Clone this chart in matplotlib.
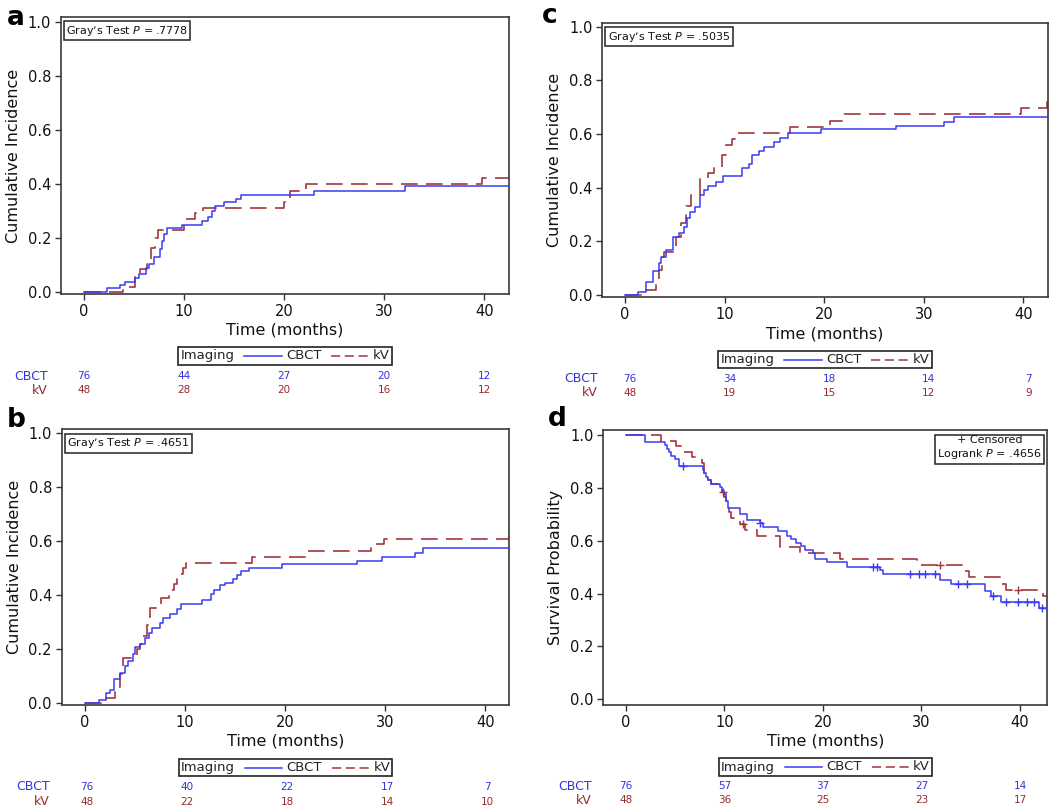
import matplotlib
matplotlib.use('Agg')
import matplotlib.pyplot as plt
import matplotlib.transforms as mtransforms
from matplotlib.lines import Line2D
from matplotlib.offsetbox import AnchoredOffsetbox, HPacker, TextArea, DrawingArea

plt.rcParams['font.family'] = ['DejaVu Sans']

# ---- data ----
risk_times = [0, 10, 20, 30, 40]

# a: cumulative incidence
a_cbct_t = [0, 2.3, 3.6, 4.1, 5.1, 5.5, 6.2, 6.5, 7.0, 7.6, 7.8, 8.0, 8.3, 9.8, 11.8, 12.4, 12.8, 13.1,
            14.0, 15.2, 15.7, 23.0, 32.1, 42.5]
a_cbct_y = [0, 0.015, 0.027, 0.039, 0.052, 0.067, 0.09, 0.105, 0.13, 0.16, 0.19, 0.215, 0.237, 0.25,
            0.263, 0.28, 0.30, 0.32, 0.333, 0.347, 0.36, 0.375, 0.395, 0.395]
a_kv_t = [0, 3.95, 5.1, 5.6, 6.3, 6.7, 7.1, 7.45, 10.0, 11.1, 11.9, 20.0, 20.6, 22.2, 39.8, 42.5]
a_kv_y = [0, 0.021, 0.064, 0.085, 0.125, 0.165, 0.2, 0.229, 0.27, 0.292, 0.313, 0.333, 0.375, 0.40,
          0.425, 0.425]
a_cbct_risk = [76, 44, 27, 20, 12]
a_kv_risk = [48, 28, 20, 16, 12]

# b: cumulative incidence
b_cbct_t = [0, 1.4, 2.1, 2.5, 2.9, 3.5, 4.0, 4.35, 4.8, 5.0, 5.5, 6.0, 6.4, 6.7, 7.5, 7.8, 8.5, 9.2,
            9.6, 11.7, 12.6, 12.9, 13.5, 14.0, 14.8, 15.2, 15.6, 16.4, 19.7, 27.2, 29.7, 33.0, 33.8, 42.5]
b_cbct_y = [0, 0.013, 0.037, 0.05, 0.09, 0.114, 0.138, 0.157, 0.182, 0.21, 0.22, 0.24, 0.26, 0.278,
            0.296, 0.315, 0.33, 0.348, 0.368, 0.382, 0.405, 0.42, 0.437, 0.447, 0.46, 0.475, 0.49,
            0.50, 0.515, 0.527, 0.543, 0.558, 0.574, 0.574]
b_kv_t = [0, 2.1, 3.0, 3.5, 3.8, 4.9, 5.2, 5.5, 5.8, 6.2, 6.4, 6.5, 7.6, 8.4, 8.9, 9.2, 9.8, 10.1,
          16.7, 22.1, 28.6, 29.9, 42.35, 42.5]
b_kv_y = [0, 0.02, 0.062, 0.11, 0.167, 0.18, 0.2, 0.22, 0.25, 0.29, 0.32, 0.352, 0.39, 0.418, 0.44,
          0.48, 0.50, 0.52, 0.543, 0.565, 0.589, 0.608, 0.632, 0.632]
b_cbct_risk = [76, 40, 22, 17, 7]
b_kv_risk = [48, 22, 18, 14, 10]

# c: cumulative incidence
c_cbct_t = [0, 1.3, 2.1, 2.8, 3.4, 3.65, 4.1, 4.8, 5.4, 5.9, 6.2, 6.5, 7.0, 7.5, 7.9, 8.3, 9.1, 9.8,
            11.7, 12.5, 12.8, 13.5, 14.0, 15.0, 15.6, 16.4, 19.7, 27.2, 32.0, 33.0, 42.5]
c_cbct_y = [0, 0.012, 0.05, 0.09, 0.118, 0.143, 0.168, 0.217, 0.23, 0.255, 0.286, 0.31, 0.329, 0.373,
            0.391, 0.407, 0.422, 0.445, 0.472, 0.49, 0.523, 0.537, 0.552, 0.57, 0.585, 0.605, 0.617,
            0.629, 0.645, 0.664, 0.664]
c_kv_t = [0, 2.0, 3.1, 3.45, 3.7, 3.9, 5.1, 5.6, 6.1, 6.6, 7.5, 8.3, 8.9, 9.7, 10.1, 10.7, 11.0,
          16.6, 20.6, 22.0, 39.8, 42.35, 42.5]
c_kv_y = [0, 0.02, 0.05, 0.093, 0.143, 0.161, 0.217, 0.267, 0.33, 0.373, 0.435, 0.455, 0.476, 0.52,
          0.558, 0.583, 0.604, 0.627, 0.65, 0.673, 0.698, 0.72, 0.72]
c_cbct_risk = [76, 34, 18, 14, 7]
c_kv_risk = [48, 19, 15, 12, 9]

# d: survival probability
d_cbct_t = [0, 1.93, 3.96, 4.2, 4.4, 4.6, 5.0, 5.4, 7.8, 7.9, 8.1, 8.3, 8.6, 9.5, 9.7, 9.95, 10.2,
            10.4, 11.6, 12.3, 13.6, 13.9, 15.4, 16.3, 16.8, 17.3, 17.8, 18.2, 19.0, 19.2, 20.4, 22.4,
            25.8, 26.1, 31.9, 33.0, 36.4, 37.1, 38.1, 41.9, 42.8]
d_cbct_y = [1.0, 0.974, 0.961, 0.947, 0.934, 0.921, 0.908, 0.882, 0.868, 0.855, 0.842, 0.829, 0.816,
            0.803, 0.789, 0.776, 0.75, 0.722, 0.70, 0.68, 0.667, 0.653, 0.637, 0.618, 0.605, 0.592,
            0.579, 0.566, 0.553, 0.532, 0.518, 0.502, 0.488, 0.473, 0.451, 0.435, 0.411, 0.392, 0.37,
            0.344, 0.344]
d_cbct_cens_t = [5.8, 13.6, 25.1, 25.5, 28.8, 29.7, 30.4, 31.4, 33.7, 34.6, 37.3, 38.6, 39.8, 40.7,
                 41.4, 42.2]
d_kv_t = [0, 3.6, 5.1, 5.8, 6.7, 7.7, 7.9, 8.3, 8.6, 9.4, 9.7, 10.0, 10.2, 10.5, 10.7, 11.6, 12.1,
          13.3, 15.6, 17.7, 21.7, 29.5, 34.3, 34.8, 38.1, 38.6, 42.3, 42.8]
d_kv_y = [1.0, 0.979, 0.958, 0.937, 0.915, 0.894, 0.852, 0.831, 0.815, 0.80, 0.785, 0.766, 0.748,
          0.71, 0.685, 0.662, 0.64, 0.617, 0.578, 0.552, 0.531, 0.508, 0.485, 0.462, 0.438, 0.415,
          0.39, 0.39]
d_kv_cens_t = [9.9, 11.9, 31.9, 39.8]
d_cbct_risk = [76, 57, 37, 27, 14]
d_kv_risk = [48, 36, 25, 23, 17]

W, H = 1050, 808
BLUE = '#3b3bf5'
RED = '#a3363b'
BLUE_TXT = '#3434d8'
RED_TXT = '#962a2f'

fig = plt.figure(figsize=(W / 100, H / 100), dpi=100)


def fx(px):
    return px / W


def fy(py):
    return 1 - py / H


def step_value(ts, ys, t):
    v = ys[0]
    for ti, yi in zip(ts, ys):
        if ti <= t:
            v = yi
    return v


def make_legend(cx, cy):
    tp = dict(fontsize=9.5, color='#222222')
    items = [TextArea('Imaging', textprops=tp)]
    for color, ls, lab in [(BLUE, '-', 'CBCT'), (RED, (0, (6, 3)), 'kV')]:
        da = DrawingArea(27, 8, 0, 0)
        da.add_artist(Line2D([0, 27], [4, 4], color=color, lw=1.1, linestyle=ls))
        items.append(HPacker(children=[da, TextArea(lab, textprops=tp)], sep=3, align='center', pad=0))
    box = HPacker(children=items, sep=7, align='center', pad=0)
    ab = AnchoredOffsetbox(loc='center', child=box, pad=0.15, borderpad=0, frameon=True,
                           bbox_to_anchor=(fx(cx), fy(cy)), bbox_transform=fig.transFigure)
    ab.patch.set_boxstyle('square', pad=0)
    ab.patch.set_edgecolor('#222222')
    ab.patch.set_linewidth(1.2)
    fig.add_artist(ab)


def panel(rect_px, xlim, ylim, letter, letter_xy, cbct, kv, ylabel, risk, risk_y, label_x,
          legend_xy, note=None, risk_dx=0.0):
    l, t, r, b = rect_px
    ax = fig.add_axes([fx(l), fy(b), fx(r - l), (b - t) / H])
    ax.step(cbct[0], cbct[1], where='post', color=BLUE, lw=1.1, zorder=3)
    ax.step(kv[0], kv[1], where='post', color=RED, lw=1.2, linestyle=(0, (10, 5)), zorder=2)
    ax.set_xlim(*xlim)
    ax.set_ylim(*ylim)
    ax.set_xticks([0, 10, 20, 30, 40])
    ax.set_yticks([0, 0.2, 0.4, 0.6, 0.8, 1.0])
    ax.set_yticklabels(['0.0', '0.2', '0.4', '0.6', '0.8', '1.0'])
    ax.tick_params(direction='out', length=4, width=1, color='#333333', labelsize=10.5,
                   labelcolor='#111111', pad=3)
    for s in ax.spines.values():
        s.set_color('#3a3a3a')
        s.set_linewidth(1.2)
    ax.set_xlabel('Time (months)', fontsize=11.5, labelpad=3, color='#111111')
    ax.set_ylabel(ylabel, fontsize=11.5, labelpad=5, color='#111111')
    fig.text(fx(letter_xy[0]), fy(letter_xy[1]), letter, fontsize=19, fontweight='bold',
             va='baseline', ha='left')
    if note is not None:
        note(ax)
    make_legend(*legend_xy)
    tr = mtransforms.blended_transform_factory(ax.transData, fig.transFigure)
    for name, vals, col, yy in [('CBCT', risk[0], BLUE_TXT, risk_y[0]), ('kV', risk[1], RED_TXT, risk_y[1])]:
        fig.text(fx(label_x), fy(yy), name, color=col, fontsize=9, ha='right', va='center')
        for tt, v in zip(risk_times, vals):
            ax.text(tt + risk_dx, fy(yy), str(v), transform=tr, color=col, fontsize=7.5,
                    ha='center', va='center')
    return ax


def gray_note(p):
    def f(ax):
        ax.text(0.012, 0.975, "Gray\u2019s Test $\\mathit{P}$ = " + p, transform=ax.transAxes,
                fontsize=8, va='top', ha='left', color='#111111',
                bbox=dict(boxstyle='square,pad=0.22', fc='white', ec='#222222', lw=1.1))
    return f


def logrank_note(ax):
    ax.text(0.988, 0.982, "+ Censored\nLogrank $\\mathit{P}$ = .4656", transform=ax.transAxes,
            fontsize=8, va='top', ha='right', multialignment='center', color='#111111',
            linespacing=1.25,
            bbox=dict(boxstyle='square,pad=0.22', fc='white', ec='#222222', lw=1.1))
    ax.plot(d_cbct_cens_t, [step_value(d_cbct_t, d_cbct_y, t) for t in d_cbct_cens_t],
            linestyle='none', marker='+', ms=6, mew=1, color=BLUE, zorder=4)
    ax.plot(d_kv_cens_t, [step_value(d_kv_t, d_kv_y, t) for t in d_kv_cens_t],
            linestyle='none', marker='+', ms=6, mew=1, color=RED, zorder=4)


panel((61, 17, 509, 294), (-2.27, 42.47), (-0.0063, 1.0196), 'a', (7, 25),
      (a_cbct_t, a_cbct_y), (a_kv_t, a_kv_y), 'Cumulative Incidence',
      (a_cbct_risk, a_kv_risk), (376, 390), 48, (285, 356), gray_note('.7778'))
panel((602.3, 22.7, 1047.7, 297.3), (-2.28, 42.45), (-0.0086, 1.0149), 'c', (542, 23),
      (c_cbct_t, c_cbct_y), (c_kv_t, c_kv_y), 'Cumulative Incidence',
      (c_cbct_risk, c_kv_risk), (379, 393), 598, (825, 359.7), gray_note('.5035'), risk_dx=0.5)
panel((61.7, 429.3, 509.3, 705), (-2.30, 42.4), (-0.0063, 1.0148), 'b', (7, 427),
      (b_cbct_t, b_cbct_y), (b_kv_t, b_kv_y), 'Cumulative Incidence',
      (b_cbct_risk, b_kv_risk), (786.7, 801.7), 50, (285.8, 767.8), gray_note('.4651'), risk_dx=0.2)
panel((603.3, 430, 1047.3, 705), (-2.30, 42.77), (-0.0216, 1.019), 'd', (548, 426),
      (d_cbct_t, d_cbct_y), (d_kv_t, d_kv_y), 'Survival Probability',
      (d_cbct_risk, d_kv_risk), (786, 800), 592, (825.5, 767), logrank_note)

fig.savefig('out.png', dpi=100)
